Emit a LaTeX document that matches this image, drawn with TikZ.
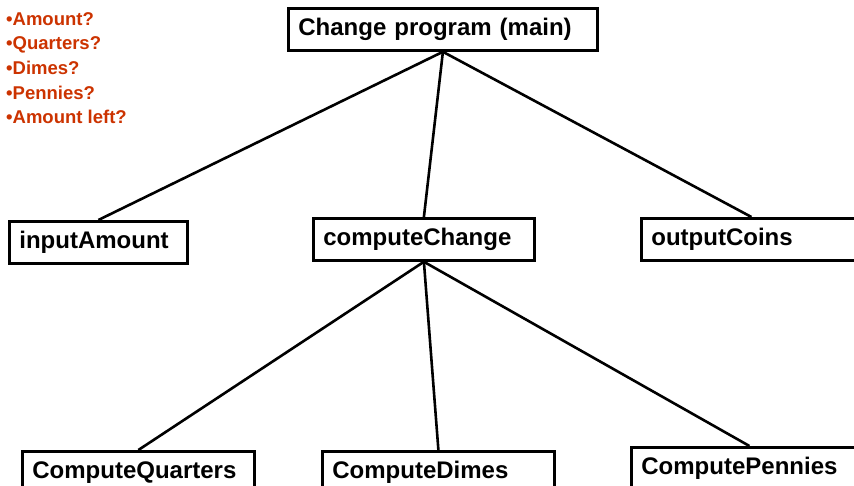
\documentclass[tikz,border=0pt]{standalone}
\usepackage{fontspec}
\setmainfont{Liberation Sans}
\definecolor{notered}{RGB}{204,51,0}
\begin{document}
\begin{tikzpicture}[x=1pt,y=1pt,
  box/.style={draw, line width=2.8pt, anchor=north west, minimum height=42pt,
    inner xsep=10pt, inner ysep=0pt, align=left,
    font=\bfseries\fontsize{24}{28}\selectfont},
  link/.style={line width=2.6pt},
  notes/.style={anchor=base west, align=left, text=notered, inner sep=0pt,
    font=\bfseries\fontsize{18.5}{24.7}\selectfont}]
\useasboundingbox (0,0) rectangle (854,486);
\clip (0,0) rectangle (854,486);
\fill[white] (0,0) rectangle (854,486);

\node[notes] (q) at (6,362) {•Amount?\\•Quarters?\\•Dimes?\\•Pennies?\\•Amount left?};

\node[box, text width=289pt] (main) at (287,479) {Change program (main)};
\node[box, text width=158pt] (inp) at (8,266) {inputAmount};
\node[box, text width=201pt] (cc) at (312,269) {computeChange};
\node[box, text width=200pt] (out) at (640,269) {outputCoins};
\node[box, text width=212pt] (cq) at (21,36) {ComputeQuarters};
\node[box, text width=212pt] (cd) at (321,36) {ComputeDimes};
\node[box, text width=216pt] (cp) at (630,40) {ComputePennies};

\draw[link] (main.south) -- (inp.north);
\draw[link] (main.south) -- (cc.north);
\draw[link] (main.south) -- (out.north);
\draw[link] (cc.south) -- (cq.north);
\draw[link] (cc.south) -- (cd.north);
\draw[link] (cc.south) -- (cp.north);
\end{tikzpicture}
\end{document}
